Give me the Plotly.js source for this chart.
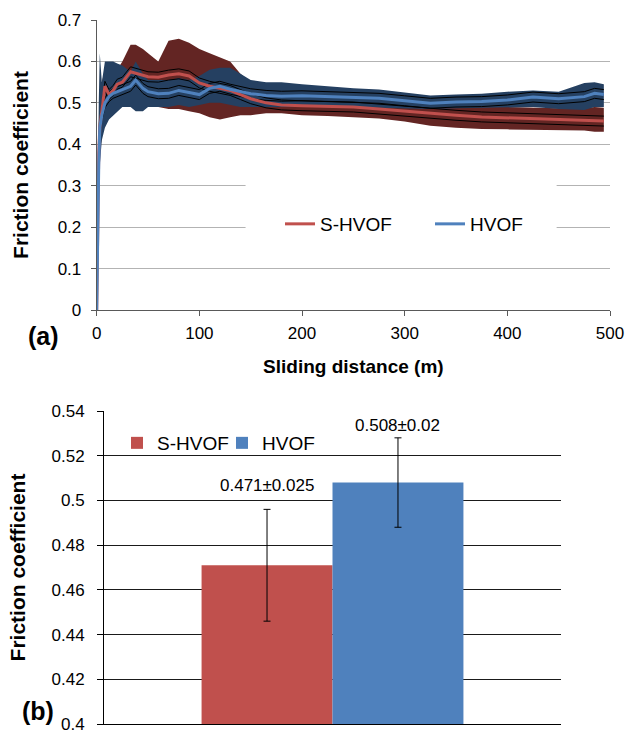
<!DOCTYPE html>
<html>
<head>
<meta charset="utf-8">
<script src="https://cdn.plot.ly/plotly-3.0.1.min.js"></script>
<style>html,body{margin:0;padding:0;background:#fff;}#chart{width:625px;height:743px;}</style>
</head>
<body>
<div id="chart"></div>
<script>
// ---- Data ----
const distance = [0, 1, 2, 3, 5, 8, 12, 16, 20, 25, 33, 38, 45, 50, 60, 70, 80, 90, 100, 110, 120, 130, 140, 150, 165, 180, 200, 225, 250, 275, 300, 325, 350, 375, 400, 425, 450, 475, 485, 494];

const sHvofMean = [0, 0.25, 0.38, 0.44, 0.48, 0.54, 0.52, 0.53, 0.545, 0.55, 0.575, 0.572, 0.566, 0.563, 0.562, 0.567, 0.57, 0.565, 0.548, 0.54, 0.535, 0.53, 0.52, 0.51, 0.5, 0.495, 0.493, 0.491, 0.49, 0.485, 0.48, 0.474, 0.47, 0.466, 0.464, 0.462, 0.459, 0.457, 0.457, 0.456];
const sHvofMax = [0, 0.3, 0.45, 0.5, 0.55, 0.58, 0.56, 0.57, 0.58, 0.6, 0.64, 0.64, 0.63, 0.62, 0.6, 0.65, 0.655, 0.645, 0.63, 0.62, 0.61, 0.6, 0.57, 0.55, 0.54, 0.53, 0.52, 0.515, 0.51, 0.505, 0.5, 0.495, 0.492, 0.49, 0.49, 0.488, 0.487, 0.487, 0.49, 0.488];
const sHvofMin = [0, 0.2, 0.3, 0.38, 0.42, 0.47, 0.48, 0.49, 0.5, 0.5, 0.5, 0.495, 0.49, 0.49, 0.49, 0.485, 0.485, 0.48, 0.475, 0.465, 0.46, 0.465, 0.47, 0.47, 0.475, 0.475, 0.47, 0.468, 0.465, 0.462, 0.455, 0.445, 0.44, 0.437, 0.436, 0.435, 0.435, 0.433, 0.43, 0.43];
const sHvofSpread = [0, 0.008, 0.01, 0.012, 0.012, 0.012, 0.012, 0.012, 0.012, 0.012, 0.012, 0.012, 0.012, 0.012, 0.012, 0.012, 0.012, 0.012, 0.012, 0.012, 0.012, 0.012, 0.012, 0.012, 0.012, 0.012, 0.012, 0.012, 0.012, 0.012, 0.012, 0.012, 0.012, 0.012, 0.012, 0.012, 0.012, 0.012, 0.012, 0.012];

const hvofMean = [0, 0.2, 0.35, 0.44, 0.47, 0.5, 0.515, 0.523, 0.527, 0.532, 0.54, 0.555, 0.535, 0.527, 0.522, 0.523, 0.53, 0.525, 0.52, 0.535, 0.54, 0.533, 0.527, 0.522, 0.518, 0.516, 0.517, 0.515, 0.512, 0.511, 0.505, 0.499, 0.502, 0.503, 0.507, 0.514, 0.51, 0.515, 0.523, 0.52];
const hvofMax = [0, 0.35, 0.5, 0.62, 0.55, 0.6, 0.6, 0.6, 0.595, 0.59, 0.575, 0.6, 0.57, 0.555, 0.555, 0.555, 0.56, 0.555, 0.565, 0.58, 0.585, 0.585, 0.57, 0.555, 0.55, 0.55, 0.545, 0.54, 0.535, 0.532, 0.525, 0.518, 0.52, 0.522, 0.527, 0.53, 0.527, 0.548, 0.55, 0.545];
const hvofMin = [0, 0.1, 0.25, 0.35, 0.41, 0.44, 0.46, 0.47, 0.48, 0.49, 0.49, 0.48, 0.48, 0.49, 0.49, 0.49, 0.495, 0.49, 0.495, 0.5, 0.5, 0.495, 0.49, 0.49, 0.49, 0.49, 0.49, 0.49, 0.49, 0.488, 0.487, 0.485, 0.487, 0.488, 0.49, 0.49, 0.485, 0.483, 0.49, 0.49];
const hvofSpread = [0, 0.008, 0.01, 0.012, 0.012, 0.012, 0.012, 0.012, 0.012, 0.012, 0.012, 0.012, 0.012, 0.012, 0.012, 0.012, 0.012, 0.012, 0.012, 0.012, 0.012, 0.012, 0.012, 0.012, 0.012, 0.012, 0.012, 0.012, 0.012, 0.012, 0.012, 0.012, 0.012, 0.012, 0.012, 0.012, 0.012, 0.012, 0.012, 0.012];

const seriesNames = ['S-HVOF', 'HVOF'];
const barCategory = ['Average'];
const avgFriction = [0.471, 0.508];
const avgError = [0.025, 0.02];
const barLabels = ['0.471±0.025', '0.508±0.02'];

const barTickVals = [0.4, 0.42, 0.44, 0.46, 0.48, 0.5, 0.52, 0.54];
const barTickText = ['0.4', '0.42', '0.44', '0.46', '0.48', '0.5', '0.52', '0.54'];

// ---- Styling ----
const FONT = '"Liberation Sans", Arial, sans-serif';
const RED = '#C0504D', BLUE = '#4F81BD', DARKRED = '#632523', DARKBLUE = '#254061';

const plus = (a, b) => a.map((v, i) => v + b[i]);
const minus = (a, b) => a.map((v, i) => Math.max(0, v - b[i]));

const traces = [
  {x: distance, y: sHvofMax, type: 'scatter', mode: 'lines', line: {width: 0, color: DARKRED}, showlegend: false, hoverinfo: 'skip', xaxis: 'x', yaxis: 'y'},
  {x: distance, y: sHvofMin, type: 'scatter', mode: 'lines', fill: 'tonexty', fillcolor: DARKRED, line: {width: 0, color: DARKRED}, showlegend: false, hoverinfo: 'skip', xaxis: 'x', yaxis: 'y'},
  {x: distance, y: hvofMax, type: 'scatter', mode: 'lines', line: {width: 0, color: DARKBLUE}, showlegend: false, hoverinfo: 'skip', xaxis: 'x', yaxis: 'y'},
  {x: distance, y: hvofMin, type: 'scatter', mode: 'lines', fill: 'tonexty', fillcolor: DARKBLUE, line: {width: 0, color: DARKBLUE}, showlegend: false, hoverinfo: 'skip', xaxis: 'x', yaxis: 'y'},
  {x: distance, y: plus(sHvofMean, sHvofSpread), type: 'scatter', mode: 'lines', line: {width: 1, color: '#000'}, showlegend: false, xaxis: 'x', yaxis: 'y'},
  {x: distance, y: minus(sHvofMean, sHvofSpread), type: 'scatter', mode: 'lines', line: {width: 1, color: '#000'}, showlegend: false, xaxis: 'x', yaxis: 'y'},
  {x: distance, y: plus(hvofMean, hvofSpread), type: 'scatter', mode: 'lines', line: {width: 1, color: '#000'}, showlegend: false, xaxis: 'x', yaxis: 'y'},
  {x: distance, y: minus(hvofMean, hvofSpread), type: 'scatter', mode: 'lines', line: {width: 1, color: '#000'}, showlegend: false, xaxis: 'x', yaxis: 'y'},
  {x: distance, y: sHvofMean, name: seriesNames[0], type: 'scatter', mode: 'lines', line: {width: 3, color: RED}, xaxis: 'x', yaxis: 'y', legend: 'legend'},
  {x: distance, y: hvofMean, name: seriesNames[1], type: 'scatter', mode: 'lines', line: {width: 3, color: BLUE}, xaxis: 'x', yaxis: 'y', legend: 'legend'},
  {x: barCategory, y: [avgFriction[0]], name: seriesNames[0], type: 'bar', marker: {color: RED}, error_y: {type: 'data', array: [avgError[0]], color: '#000', thickness: 1, width: 3.5}, xaxis: 'x2', yaxis: 'y2', legend: 'legend2'},
  {x: barCategory, y: [avgFriction[1]], name: seriesNames[1], type: 'bar', marker: {color: BLUE}, error_y: {type: 'data', array: [avgError[1]], color: '#000', thickness: 1, width: 3.5}, xaxis: 'x2', yaxis: 'y2', legend: 'legend2'}
];

const BARGAP = 0.427;
const off = (1 - BARGAP) / 4;

const layout = {
  width: 625, height: 743,
  margin: {l: 0, r: 0, t: 0, b: 0},
  paper_bgcolor: '#fff', plot_bgcolor: '#fff',
  font: {family: FONT, size: 17, color: '#000'},
  showlegend: true,
  barmode: 'group', bargap: BARGAP, bargroupgap: 0,
  xaxis: {
    domain: [96.7/625, 610/625], anchor: 'y', range: [0, 500], dtick: 100,
    showgrid: false, zeroline: false, showline: true, linecolor: '#595959', linewidth: 1,
    ticks: 'outside', ticklen: 5, tickcolor: '#595959', tickfont: {size: 17, color: '#000'},
    ticklabelstandoff: 3,
    title: {text: '<b>Sliding distance (m)</b>', font: {size: 19, color: '#000'}, standoff: 17},
    automargin: false
  },
  yaxis: {
    domain: [1 - 310/743, 1 - 20/743], anchor: 'x', range: [0, 0.7], dtick: 0.1,
    showgrid: true, gridcolor: '#b3b3b3', gridwidth: 1.2, zeroline: false,
    showline: true, linecolor: '#595959', linewidth: 1,
    ticks: 'outside', ticklen: 5, tickcolor: '#595959', tickfont: {size: 17, color: '#000'},
    ticklabelstandoff: 6,
    title: {text: '<b>Friction coefficient</b>', font: {size: 21, color: '#000'}, standoff: 23},
    automargin: false
  },
  xaxis2: {
    domain: [104/625, 561/625], anchor: 'y2', type: 'category',
    showgrid: false, zeroline: false, showline: true, linecolor: '#000', linewidth: 1,
    showticklabels: false, ticks: '', automargin: false
  },
  yaxis2: {
    domain: [1 - 724/743, 1 - 411/743], anchor: 'x2', range: [0.4, 0.54],
    tickvals: barTickVals, ticktext: barTickText,
    showgrid: true, gridcolor: '#1a1a1a', gridwidth: 1.2, zeroline: false,
    showline: true, linecolor: '#000', linewidth: 1,
    ticks: 'outside', ticklen: 6, tickcolor: '#000', tickfont: {size: 17, color: '#000'},
    ticklabelstandoff: 9,
    title: {text: '<b>Friction coefficient</b>', font: {size: 21, color: '#000'}, standoff: 20},
    automargin: false
  },
  legend: {
    orientation: 'h', x: 280/625, y: 1 - 224/743, xanchor: 'left', yanchor: 'middle',
    traceorder: 'normal', entrywidth: 105,
    bgcolor: 'rgba(0,0,0,0)', font: {size: 19, color: '#000'}, itemwidth: 30, tracegroupgap: 0
  },
  legend2: {
    orientation: 'h', x: 117/625, y: 1 - 443/743, xanchor: 'left', yanchor: 'middle',
    traceorder: 'normal', entrywidth: 60,
    bgcolor: 'rgba(0,0,0,0)', font: {size: 19, color: '#000'}, itemwidth: 30
  },
  shapes: [
    {type: 'rect', xref: 'x', yref: 'y', x0: 145, x1: 448, y0: 0.15, y1: 0.35, fillcolor: '#fff', line: {width: 0}, layer: 'above'}
  ],
  annotations: [
    {xref: 'x2', yref: 'y2', x: -off, y: avgFriction[0] + avgError[0], text: barLabels[0], showarrow: false, yanchor: 'bottom', yshift: 12, font: {size: 17, color: '#000'}},
    {xref: 'x2', yref: 'y2', x: off, y: avgFriction[1] + avgError[1], text: barLabels[1], showarrow: false, yanchor: 'bottom', yshift: 1, font: {size: 17, color: '#000'}},
    {xref: 'paper', yref: 'paper', x: 26/625, y: 1 - 336/743, text: '<b>(a)</b>', showarrow: false, font: {size: 25, color: '#000'}},
    {xref: 'paper', yref: 'paper', x: 19.5/625, y: 1 - 727/743, text: '<b>(b)</b>', showarrow: false, font: {size: 25, color: '#000'}}
  ]
};

Plotly.newPlot('chart', traces, layout, {displayModeBar: false, staticPlot: true});
</script>
</body>
</html>
